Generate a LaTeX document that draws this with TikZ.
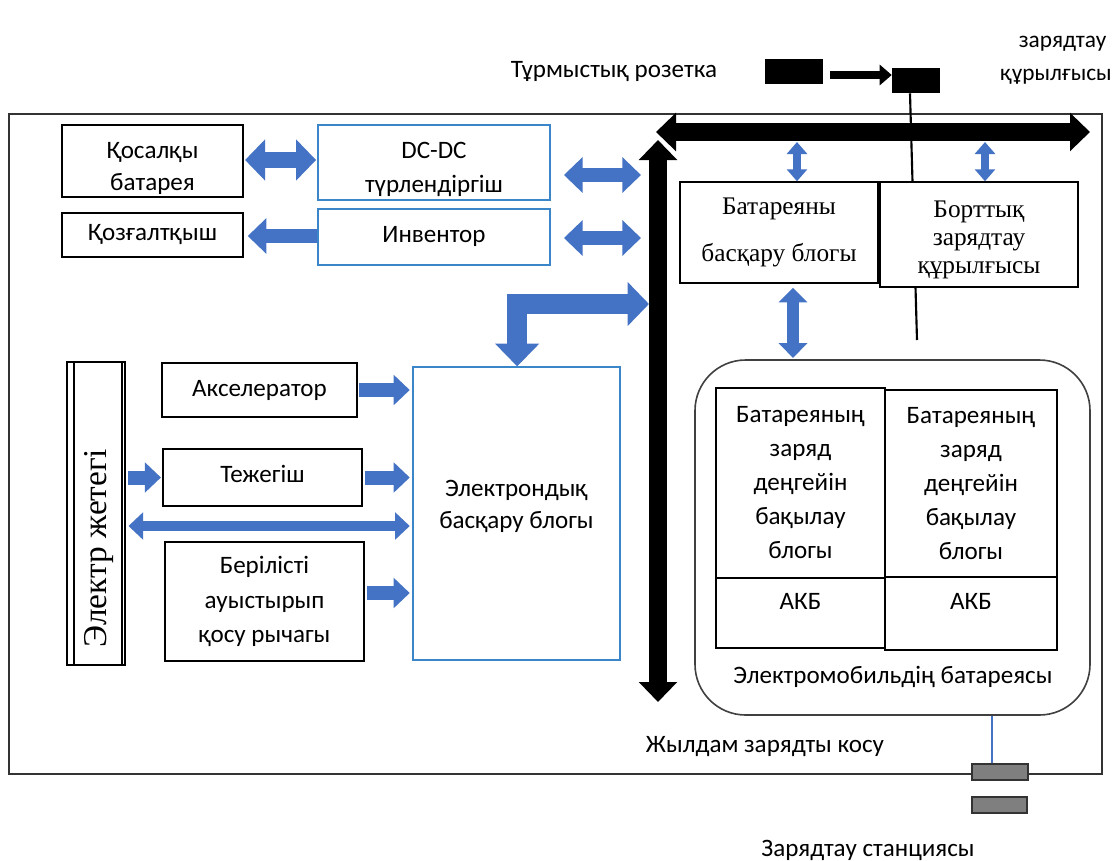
\documentclass[tikz,border=0pt]{standalone}
\usepackage{fontspec}
\setmainfont{Carlito}
\newfontfamily\tnr{Liberation Serif}
\usetikzlibrary{arrows.meta,calc}
\definecolor{ablue}{HTML}{4472C4}
\definecolor{bblue}{HTML}{3A86C8}
\definecolor{plug}{HTML}{7F7F7F}
\newcommand\sfz{\fontsize{18.8}{24}\selectfont}
\newcommand\sfc{\fontsize{18.8}{25.5}\selectfont}
\newcommand\tnz{\tnr\fontsize{19}{26}\selectfont}
\begin{document}
\begin{tikzpicture}[x=0.75pt,y=-0.75pt,
  sz/.style 2 args={minimum width=#1*0.75pt, minimum height=#2*0.75pt},
  box/.style={draw=black, line width=1.1pt, fill=white, align=center, inner sep=0pt, font=\sfz},
  bbox/.style={draw=bblue, line width=0.9pt, fill=white, align=center, inner sep=0pt, font=\sfz},
  txt/.style={align=center, inner sep=0pt, font=\sfz},
  fat/.style n args={3}{draw=ablue, line width=#1, line join=miter, -{Triangle[width=#2,length=#3]}},
  fatd/.style n args={3}{draw=ablue, line width=#1, line join=miter, {Triangle[width=#2,length=#3]}-{Triangle[width=#2,length=#3]}},
  bus/.style={draw=black, line width=13.5pt, {Triangle[width=28pt,length=15pt]}-{Triangle[width=28pt,length=15pt]}},
]
\useasboundingbox (0,0) rectangle (1115,861);
\fill[white] (0,0) rectangle (1115,861);

% outer frame
\draw[line width=1.4pt, draw=black!80] (9,114) rectangle (1102,774);

% socket and on-board charger line
\node[fill=black, sz={58}{25}, inner sep=0pt] (sock) at (794,71.5) {};
\node[fill=black, sz={48}{25}, inner sep=0pt] (chg) at (916,80.5) {};
\draw[black, line width=6.5pt, -{Triangle[width=15pt,length=9pt]}] ([xshift=5pt]sock.east |- 0,75) -- (chg.west |- 0,75);
\coordinate (obcend) at (917,340);
\draw[black, line width=1.6pt] ([xshift=-4.5pt]chg.south) -- (obcend);

\node[txt] (sockl) at (614,72) {Тұрмыстық розетка};
\node[txt, font=\fontsize{17.5}{25}\selectfont] (chgl) at (1056,60) {\hspace*{10pt}зарядтау\\құрылғысы};

% buses
\coordinate (vbT) at (658,140);
\coordinate (vbB) at (658,702);
\coordinate (hbL) at (656,132);
\coordinate (hbR) at (1090,132);
\draw[bus] (vbB) -- (vbT);
\draw[white, line width=3pt] (648,143) -- (672,122);
\draw[bus] (hbL) -- (hbR);

% left top boxes
\node[box, sz={181}{72}] (qb) at (152.5,161) {};
\node[txt] (qbt) at (152.5,168) {Қосалқы\\батарея};
\node[bbox, sz={232}{75}] (dcdc) at (434,162.5) {};
\node[txt, font=\fontsize{18.8}{26}\selectfont] (dcdct) at (434,169.5) {DC-DC\\түрлендіргіш};
\node[box, sz={181}{44}] (mot) at (152.5,235) {Қозғалтқыш};
\node[bbox, sz={232}{56}] (inv) at (434,237) {\raisebox{4pt}{Инвентор}};

\draw[fatd={12pt}{30pt}{15pt}] ([xshift=1pt]qb.east |- 0,160) -- ([xshift=-1pt]dcdc.west |- 0,160);
\draw[fat={11pt}{26pt}{14pt}] (inv.west |- 0,236) -- ([xshift=3pt]mot.east |- 0,236);

\coordinate (b1) at (641,175);
\coordinate (b2) at (641,238);
\coordinate (b3) at (649,304);
\draw[fatd={10.5pt}{26pt}{14pt}] ([xshift=10pt]dcdc.east |- b1) -- (b1);
\draw[fatd={10.5pt}{26pt}{14pt}] ([xshift=10pt]inv.east |- b2) -- (b2);

% ECU
\node[bbox, sz={207}{293}] (ecu) at (516.5,513.5) {};
\node[txt] (ecut) at (516.5,506) {Электрондық\\басқару блогы};
\draw[draw=ablue, line width=15pt, line join=miter, {Triangle[width=32pt,length=17pt]}-{Triangle[width=32pt,length=16pt]}] ([xshift=0.5pt]ecu.north) |- (b3);

% drive
\node[draw=black, line width=1.2pt, sz={58}{303}, inner sep=0pt] (drive) at (96,513.5) {};
\draw[line width=1pt] (74,362) -- (74,665) (122,362) -- (122,665);
\node[rotate=90, inner sep=0pt, font=\tnr\fontsize{25}{30}\selectfont] (drivet) at (99,548) {Электр жетегі};

% sensor boxes
\node[box, sz={195}{54}] (acc) at (259.5,390) {Акселератор};
\node[box, sz={199}{57}] (brk) at (262.5,477.5) {\raisebox{5pt}{Тежегіш}};
\node[box, sz={199}{119}, font=\fontsize{18.8}{26}\selectfont] (gear) at (264.5,601.5) {Берілісті\\ауыстырып\\қосу рычагы};

\draw[fat={10.5pt}{22pt}{12pt}] ([xshift=1pt]acc.east) -- ([xshift=-2pt]acc.east -| ecu.west);
\draw[fat={10.5pt}{22pt}{12pt}] ([xshift=2pt]drive.east |- brk.west) -- ([xshift=-1pt]brk.west);
\draw[fat={10.5pt}{22pt}{12pt}] ([xshift=2pt]brk.east) -- ([xshift=-2pt]brk.east -| ecu.west);
\coordinate (ly) at (0,526);
\draw[fatd={8pt}{20pt}{11pt}] ([xshift=2pt]drive.east |- ly) -- ([xshift=-2pt]ecu.west |- ly);
\draw[fat={10.5pt}{22pt}{12pt}] ([xshift=2pt]gear.east |- 0,593) -- ([xshift=-2pt]ecu.west |- 0,593);

% BMS and OBC
\node[box, sz={198}{101}, font=\tnz] (bms) at (779,232.5) {Батареяны\\[9pt]басқару блогы};
\node[box, sz={198}{105}] (obc) at (979,234.5) {};
\node[txt, font=\tnr\fontsize{19}{21}\selectfont] (obct) at (979,239.5) {Борттық\\зарядтау\\құрылғысы};
\draw[fatd={6pt}{15pt}{9pt}] (bms.north -| 797,0) -- (797,142);
\draw[fatd={6pt}{15pt}{9pt}] (obc.north -| 985,0) -- (985,142);

% battery pack
\node[draw=black!75, line width=1.2pt, rounded corners=38pt, sz={395}{355}, inner sep=0pt] (pack) at (892.5,537.5) {};
\draw[fatd={9pt}{21pt}{11pt}] ([yshift=-3pt]bms.south -| 793,0) -- ([yshift=1pt]pack.north -| 793,0);

\node[box, sz={169}{190}, font=\sfc, line width=1pt] (c1) at (800.5,483) {Батареяның\\заряд\\деңгейін\\бақылау\\блогы};
\node[box, sz={169}{70}, line width=1pt] (a1) at (800.5,613) {};
\node[box, sz={172}{187}, font=\sfc, line width=1pt] (c2) at (971,483.5) {Батареяның\\заряд\\деңгейін\\бақылау\\блогы};
\node[box, sz={172}{73}, line width=1pt] (a2) at (971,613.5) {};
\node[txt] (a1t) at (800.5,601) {АКБ};
\node[txt] (a2t) at (971,601) {АКБ};
\node[txt] (packt) at (893,677) {Электромобильдің батареясы};

% fast charging
\node[draw=black!80, fill=plug, sz={56}{16}, inner sep=0pt, line width=1pt] (p1) at (1000,772) {};
\node[draw=black!80, fill=plug, sz={55}{16}, inner sep=0pt, line width=1pt] (p2) at (999.5,805) {};
\draw[ablue, line width=1.3pt] (pack.south -| 992,0) -- (p1.north -| 992,0);
\node[txt] (fast) at (765,747) {Жылдам зарядты косу};
\node[txt] (stat) at (868,850) {Зарядтау станциясы};
\end{tikzpicture}
\end{document}
